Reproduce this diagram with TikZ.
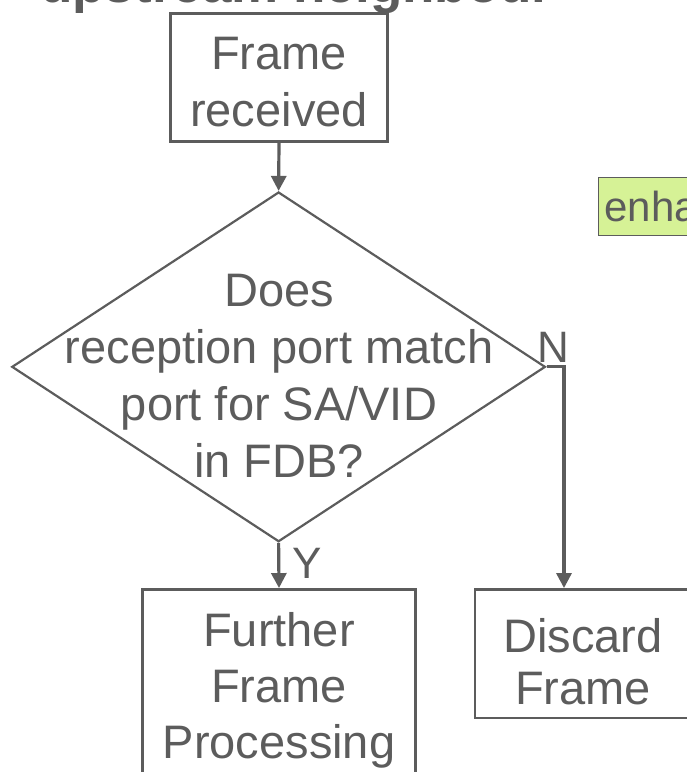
\documentclass[tikz,border=0pt]{standalone}
\usepackage{fontspec}
\setmainfont{Liberation Sans}
\usetikzlibrary{shapes.geometric,arrows.meta}
\definecolor{gc}{RGB}{92,92,92}
\definecolor{gfill}{RGB}{214,242,150}
\begin{document}
\begin{tikzpicture}[x=1pt,y=-1pt,
  every node/.style={text=gc},
  lbl/.style={inner sep=0pt, anchor=base west, font=\fontsize{44}{52}\selectfont},
  box/.style={draw=gc, line width=2.5pt, inner sep=0pt, align=center, font=\fontsize{47}{57}\selectfont},
  dec/.style={diamond, draw=gc, line width=2.2pt, inner sep=0pt},
  arr/.style={draw=gc, line width=3.2pt, -{Triangle[length=15pt,width=15pt]}},
]
\path[use as bounding box] (0,0) rectangle (687,772);
\clip (0,0) rectangle (687,772);

\node[anchor=base west, inner sep=0pt, font=\bfseries\fontsize{53}{60}\selectfont] (up) at (40,2) {upstream neighbour};

\node[box, minimum width=217pt, minimum height=128.2pt] (fr) at (279,77.6) {\rule{0pt}{41.8pt}Frame\\received};

\node[dec, minimum width=533.6pt, minimum height=349.7pt] (q) at (278.6,366.85) {};
\node[inner sep=0pt, align=center, font=\fontsize{47}{57}\selectfont] (qt) at (279,375.7) {Does\\reception port match\\port for SA/VID\\in FDB?};

\node[box, font=\fontsize{47}{56}\selectfont, minimum width=273pt, minimum height=201.6pt] (ff) at (279,690.1) {Further\\Frame\\Processing};

\node[box, font=\fontsize{47}{52}\selectfont, minimum width=216pt, minimum height=128.7pt] (df) at (583,653.65) {\rule{0pt}{50.7pt}Discard\\Frame};

\node[draw=gc, line width=1.5pt, fill=gfill, anchor=north west, minimum height=58pt, text width=200pt, align=left, inner xsep=6pt, inner ysep=0pt, font=\fontsize{42}{50}\selectfont] (eb) at (597.7,176.7) {enha};

\coordinate (nc) at ([xshift=17.5pt]q.east);
\draw[arr] (fr.south) -- (q.north);
\draw[arr] (q.south) -- (ff.north);
\draw[arr] (q.east) -- (nc) -- (nc |- df.north);

\node[lbl] (nl) at (537,362) {N};
\node[lbl] (yl) at (292,578) {Y};
\end{tikzpicture}
\end{document}
